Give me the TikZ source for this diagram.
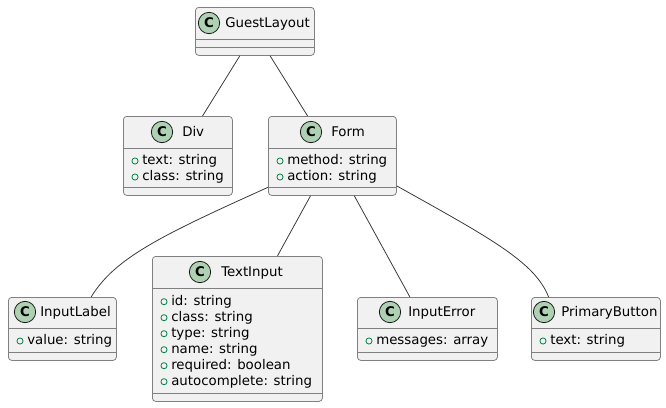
\documentclass[tikz,border=0pt]{standalone}
\usepackage{fontspec}
\setmainfont{DejaVu Sans}
\usetikzlibrary{positioning}
\definecolor{boxfill}{HTML}{F1F1F1}
\definecolor{boxline}{HTML}{181818}
\definecolor{markfill}{HTML}{ADD1B2}
\definecolor{attrgreen}{HTML}{038048}
\tikzset{
    classbox/.style={rectangle, draw=boxline!55, fill=boxfill, line width=0.6pt, rounded corners=2.5pt, inner sep=0pt, anchor=north west},
    cmark/.style={circle, draw=boxline, fill=markfill, line width=0.6pt, minimum size=16pt, inner sep=0pt, font=\bfseries\fontsize{10}{12}\selectfont},
    cname/.style={anchor=west, inner sep=0pt, text height=7.3pt, text depth=0pt, font=\fontsize{10}{12}\selectfont},
    attr/.style={anchor=west, inner sep=0pt, text height=7.5pt, text depth=2pt, font=\fontsize{10}{12}\selectfont},
    amark/.style={circle, draw=attrgreen, line width=0.6pt, minimum size=4.6pt, inner sep=0pt},
    divline/.style={draw=boxline!55, line width=0.6pt},
    assoc/.style={draw=boxline!85, line width=0.6pt},
}
\begin{document}
\begin{tikzpicture}[x=0.75pt, y=-0.75pt]
    \useasboundingbox (0,0) rectangle (666,407);
    % classes
    \node [classbox, minimum width=89.25pt, minimum height=36pt] (guest) at (195,7) {};
    \node [classbox, minimum width=81.75pt, minimum height=59.25pt] (div) at (123,116) {};
    \node [classbox, minimum width=96pt, minimum height=59.25pt] (form) at (268,116) {};
    \node [classbox, minimum width=81pt, minimum height=47.25pt] (inlabel) at (8,297) {};
    \node [classbox, minimum width=127.5pt, minimum height=108.75pt] (tinput) at (152,256) {};
    \node [classbox, minimum width=105pt, minimum height=47.25pt] (inerror) at (357,297) {};
    \node [classbox, minimum width=96.75pt, minimum height=47.25pt] (pbutton) at (531,297) {};
    % compartments
    \draw [divline] (guest.west |- 0,39) -- (guest.east |- 0,39);
    \draw [divline] (guest.west |- 0,47) -- (guest.east |- 0,47);
    \draw [divline] (div.west |- 0,148) -- (div.east |- 0,148);
    \draw [divline] (div.west |- 0,187) -- (div.east |- 0,187);
    \draw [divline] (form.west |- 0,148) -- (form.east |- 0,148);
    \draw [divline] (form.west |- 0,187) -- (form.east |- 0,187);
    \draw [divline] (inlabel.west |- 0,328) -- (inlabel.east |- 0,328);
    \draw [divline] (inlabel.west |- 0,352) -- (inlabel.east |- 0,352);
    \draw [divline] (tinput.west |- 0,288) -- (tinput.east |- 0,288);
    \draw [divline] (tinput.west |- 0,393) -- (tinput.east |- 0,393);
    \draw [divline] (inerror.west |- 0,328) -- (inerror.east |- 0,328);
    \draw [divline] (inerror.west |- 0,352) -- (inerror.east |- 0,352);
    \draw [divline] (pbutton.west |- 0,328) -- (pbutton.east |- 0,328);
    \draw [divline] (pbutton.west |- 0,352) -- (pbutton.east |- 0,352);
    % headers
    \node [cmark] (guestc) at (209,23) {C};
    \node [cname] (guestn) at (225,23) {GuestLayout};
    \node [cmark] (divc) at (162,132) {C};
    \node [cname] (divn) at (182,132) {Div};
    \node [cmark] (formc) at (311,132) {C};
    \node [cname] (formn) at (331,132) {Form};
    \node [cmark] (inlabelc) at (25,312) {C};
    \node [cname] (inlabeln) at (40,312) {InputLabel};
    \node [cmark] (tinputc) at (200,272) {C};
    \node [cname] (tinputn) at (221,272) {TextInput};
    \node [cmark] (inerrorc) at (390,312) {C};
    \node [cname] (inerrorn) at (408,312) {InputError};
    \node [cmark] (pbuttonc) at (544,312) {C};
    \node [cname] (pbuttonn) at (561,312) {PrimaryButton};
    % attributes
    \node [amark] (diva1) at (135,161) {};
    \node [attr] (divt1) at (142,161) {text: string};
    \node [amark] (diva2) at (135,177) {};
    \node [attr] (divt2) at (142,177) {class: string};
    \node [amark] (forma1) at (280,161) {};
    \node [attr] (formt1) at (287,161) {method: string};
    \node [amark] (forma2) at (280,177) {};
    \node [attr] (formt2) at (287,177) {action: string};
    \node [amark] (inlabela1) at (20,341) {};
    \node [attr] (inlabelt1) at (27,341) {value: string};
    \node [amark] (tinputa1) at (164,301.7) {};
    \node [attr] (tinputt1) at (171,301.7) {id: string};
    \node [amark] (tinputa2) at (164,317.7) {};
    \node [attr] (tinputt2) at (171,317.7) {class: string};
    \node [amark] (tinputa3) at (164,333.7) {};
    \node [attr] (tinputt3) at (171,333.7) {type: string};
    \node [amark] (tinputa4) at (164,349.7) {};
    \node [attr] (tinputt4) at (171,349.7) {name: string};
    \node [amark] (tinputa5) at (164,365.7) {};
    \node [attr] (tinputt5) at (171,365.7) {required: boolean};
    \node [amark] (tinputa6) at (164,381.7) {};
    \node [attr] (tinputt6) at (171,381.7) {autocomplete: string};
    \node [amark] (inerrora1) at (369,341) {};
    \node [attr] (inerrort1) at (376,341) {messages: array};
    \node [amark] (pbuttona1) at (543,341) {};
    \node [attr] (pbuttont1) at (550,341) {text: string};
    % associations
    \draw [assoc] (guest) -- (div);
    \draw [assoc] (guest) -- (form);
    \draw [assoc] (form.206) .. controls (160,236) and (115,258) .. (inlabel.48);
    \draw [assoc] (form) -- (tinput);
    \draw [assoc] (form) -- (inerror);
    \draw [assoc] (form.-25) .. controls (490,238) and (535,262) .. (pbutton.146);
\end{tikzpicture}
\end{document}
